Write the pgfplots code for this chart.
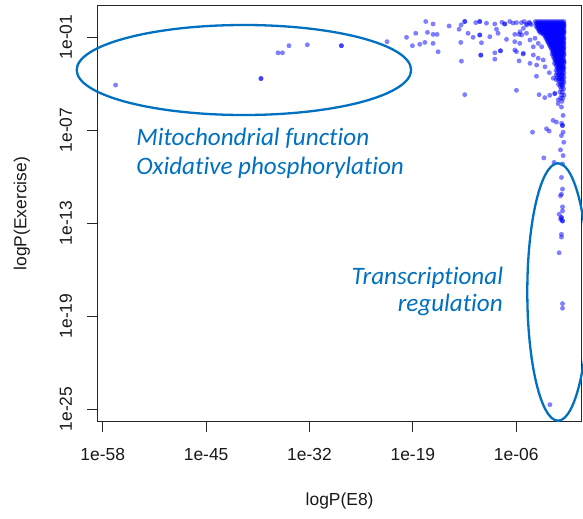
\documentclass[border=0pt]{standalone}
\usepackage{fontspec}
\setmainfont{Liberation Sans}
\newfontfamily\annotfont[Ligatures=NoCommon]{Carlito}
\usepackage{pgfplots}
\pgfplotsset{compat=1.18}
\definecolor{annot}{RGB}{0,112,192}
\definecolor{pt}{RGB}{0,0,255}
\begin{document}
\begin{tikzpicture}
\useasboundingbox (0,0) rectangle (583bp,-519bp);
\begin{axis}[
  at={(97.7bp,-421.7bp)}, anchor=south west,
  scale only axis, width=483.8bp, height=416bp,
  xmin=-58.63, xmax=2.2, ymin=-25.82, ymax=1.02,
  xtick={-58,-45,-32,-19,-6}, xticklabels={1e-58,1e-45,1e-32,1e-19,1e-06},
  ytick={-25,-19,-13,-7,-1}, yticklabels={1e-25,1e-19,1e-13,1e-07,1e-01},
  tick align=outside, major tick length=10.5bp,
  xtick pos=left, ytick pos=left,
  tick style={black!85, line width=0.8bp},
  axis line style={black!85, line width=0.8bp},
  ticklabel style={font=\fontsize{17.5}{21}\selectfont, text=black!90},
  /pgf/number format/assume math mode=true,
  xticklabel style={anchor=north, inner sep=0pt},
  yticklabel style={rotate=90, anchor=south, inner sep=0pt},
  xticklabel shift=16bp,
  yticklabel shift=14.9bp,
  xlabel={logP(E8)}, ylabel={logP(Exercise)},
  label style={font=\fontsize{17.5}{21}\selectfont, text=black!90},
  xlabel style={at={(axis description cs:0.5,-0.1906)}, anchor=center},
  ylabel style={at={(axis description cs:-0.1565,0.5)}, anchor=center},
  every axis plot/.append style={only marks, mark=*, mark size=2.45bp,
    mark options={draw=pt, fill=pt, fill opacity=0.5, draw opacity=0}},
]
% scattered genes
\addplot[color=pt] table {
lx ly
-56.38 -4.10
-38.1 -3.68
-38.1 -3.68
-35.96 -2.02
-35.4 -2.02
-34.58 -1.56
-32.27 -1.50
-27.99 -1.56
-27.99 -1.56
-22.25 -1.30
-19.8 -1.02
-19.06 -1.56
-18.64 -0.76
-18.14 -1.47
-17.5 -1.35
-17.38 0.0
-17.17 -0.70
-16.46 -0.16
-16.46 -0.83
-16.46 -1.41
-15.96 -0.83
-15.83 -1.95
-14.45 -0.29
-13.19 -0.50
-12.98 -1.35
-12.94 -0.22
-12.9 -2.56
-12.48 0.0
-12.48 0.0
-12.48 -4.72
-12.06 -0.76
-11.43 -1.02
-11.09 -0.07
-10.59 0.0
-10.59 0.0
-10.59 -0.87
-10.59 -0.87
-10.46 -2.17
-10.46 -2.17
-10.38 -1.37
-9.75 -0.11
-9.33 -0.98
-8.70 -0.16
-8.70 -2.02
-8.70 -2.43
-8.49 -0.50
-8.29 -0.76
-7.99 -1.89
-7.99 -1.89
-7.8 -0.05
-7.45 -0.16
-7.45 -0.16
-7.23 -1.15
-6.82 0.0
-6.4 -0.10
-6.19 -0.83
-6.19 -1.30
-6.19 -1.84
-5.98 -0.07
-5.98 -1.95
-5.98 -4.44
-5.65 -0.83
-5.65 -2.54
-5.56 -1.41
-5.53 -0.66
-5.35 -0.07
-5.32 -0.87
-5.14 -2.10
-5.11 -0.44
-5.11 -2.05
-5.0 0.0
-4.72 -0.16
-4.72 -0.76
-4.69 -0.23
-4.4 -0.05
-4.28 -0.12
-4.28 -1.19
-4.28 -2.70
-4.1 -0.20
-3.86 -1.63
-3.86 -2.16
-3.65 -1.08
-3.46 -3.53
-3.44 -2.81
-3.24 -1.41
-3.24 -2.37
-3.13 -4.72
-2.81 -1.63
-2.61 -2.48
-2.42 -4.91
-2.39 -2.92
-1.85 -3.30
-1.79 -4.76
-1.35 -3.66
-1.16 -4.65
-1.16 -4.65
-0.74 -5.30
-0.72 -5.06
-0.32 -5.52
-0.11 -6.06
-1.37 -6.38
-0.95 -6.49
-0.29 -6.57
-3.96 -7.14
-2.20 -6.92
-1.87 -7.07
-0.19 -6.71
-0.19 -6.71
-0.11 -7.14
-0.32 -7.36
-0.03 -7.79
-0.44 -8.28
-0.11 -8.65
-2.54 -8.80
-1.24 -9.09
-0.19 -9.19
-0.32 -10.06
-0.19 -10.81
-0.44 -11.25
-0.32 -11.14
-0.19 -11.96
-0.19 -12.22
-0.61 -12.44
-0.32 -12.65
-0.32 -12.65
-0.19 -12.87
-0.19 -12.87
-0.44 -12.76
-0.32 -13.73
-0.32 -13.91
-0.61 -14.92
-0.19 -18.20
-0.19 -18.50
-1.77 -24.72
};
% dense cluster of genes near logP = 0
\addplot[color=pt] table {
lx ly
-3.6 0.0
-3.3 0.0
-3.0 0.0
-2.7 0.0
-2.4 0.0
-2.1 0.0
-1.8 0.0
-1.5 0.0
-1.2 0.0
-0.9 0.0
-0.6 0.0
-0.3 0.0
0.0 0.0
-3.45 -0.15
-3.15 -0.15
-2.85 -0.15
-2.55 -0.15
-2.25 -0.15
-1.95 -0.15
-1.65 -0.15
-1.35 -0.15
-1.05 -0.15
-0.75 -0.15
-0.45 -0.15
-0.15 -0.15
0.0 -0.15
-3.5 -0.3
-3.2 -0.3
-2.9 -0.3
-2.6 -0.3
-2.3 -0.3
-2.0 -0.3
-1.7 -0.3
-1.4 -0.3
-1.1 -0.3
-0.8 -0.3
-0.5 -0.3
-0.2 -0.3
0.0 -0.3
-3.3 -0.45
-3.0 -0.45
-2.7 -0.45
-2.4 -0.45
-2.1 -0.45
-1.8 -0.45
-1.5 -0.45
-1.2 -0.45
-0.9 -0.45
-0.6 -0.45
-0.3 -0.45
0.0 -0.45
-3.15 -0.6
-2.85 -0.6
-2.55 -0.6
-2.25 -0.6
-1.95 -0.6
-1.65 -0.6
-1.35 -0.6
-1.05 -0.6
-0.75 -0.6
-0.45 -0.6
-0.15 -0.6
0.0 -0.6
-2.9 -0.75
-2.6 -0.75
-2.3 -0.75
-2.0 -0.75
-1.7 -0.75
-1.4 -0.75
-1.1 -0.75
-0.8 -0.75
-0.5 -0.75
-0.2 -0.75
0.0 -0.75
-2.45 -0.9
-2.15 -0.9
-1.85 -0.9
-1.55 -0.9
-1.25 -0.9
-0.95 -0.9
-0.65 -0.9
-0.35 -0.9
-0.05 -0.9
-2.3 -1.05
-2.0 -1.05
-1.7 -1.05
-1.4 -1.05
-1.1 -1.05
-0.8 -1.05
-0.5 -1.05
-0.2 -1.05
0.0 -1.05
-2.15 -1.2
-1.85 -1.2
-1.55 -1.2
-1.25 -1.2
-0.95 -1.2
-0.65 -1.2
-0.35 -1.2
-0.05 -1.2
-2.0 -1.35
-1.7 -1.35
-1.4 -1.35
-1.1 -1.35
-0.8 -1.35
-0.5 -1.35
-0.2 -1.35
0.0 -1.35
-1.85 -1.5
-1.55 -1.5
-1.25 -1.5
-0.95 -1.5
-0.65 -1.5
-0.35 -1.5
-0.05 -1.5
-1.7 -1.65
-1.4 -1.65
-1.1 -1.65
-0.8 -1.65
-0.5 -1.65
-0.2 -1.65
0.0 -1.65
-1.55 -1.8
-1.25 -1.8
-0.95 -1.8
-0.65 -1.8
-0.35 -1.8
-0.05 -1.8
-1.4 -1.95
-1.1 -1.95
-0.8 -1.95
-0.5 -1.95
-0.2 -1.95
0.0 -1.95
-1.5 -2.1
-1.2 -2.1
-0.9 -2.1
-0.6 -2.1
-0.3 -2.1
0.0 -2.1
-1.35 -2.25
-1.05 -2.25
-0.75 -2.25
-0.45 -2.25
-0.15 -2.25
-1.25 -2.4
-0.95 -2.4
-0.65 -2.4
-0.35 -2.4
-0.05 -2.4
-1.1 -2.55
-0.8 -2.55
-0.5 -2.55
-0.2 -2.55
0.0 -2.55
-1.2 -2.7
-0.9 -2.7
-0.6 -2.7
-0.3 -2.7
0.0 -2.7
-1.0 -2.85
-0.7 -2.85
-0.4 -2.85
-0.1 -2.85
-0.85 -3.0
-0.55 -3.0
-0.25 -3.0
0.0 -3.0
-1.0 -3.15
-0.7 -3.15
-0.4 -3.15
-0.1 -3.15
-0.85 -3.3
-0.55 -3.3
-0.25 -3.3
0.0 -3.3
-1.0 -3.45
-0.7 -3.45
-0.4 -3.45
-0.1 -3.45
-0.85 -3.6
-0.55 -3.6
-0.25 -3.6
0.0 -3.6
-1.0 -3.75
-0.7 -3.75
-0.4 -3.75
-0.1 -3.75
-0.55 -3.9
-0.25 -3.9
0.0 -3.9
-0.7 -4.05
-0.4 -4.05
-0.1 -4.05
-0.5 -4.2
-0.2 -4.2
-0.35 -4.35
-0.05 -4.35
-0.5 -4.55
-0.2 -4.55
-0.3 -4.75
0.0 -4.75
-0.45 -4.95
-0.15 -4.95
-0.25 -5.15
-3.45 -0.08
-3.15 -0.08
-2.85 -0.08
-2.55 -0.08
-2.25 -0.08
-1.95 -0.08
-1.65 -0.08
-1.35 -0.08
-1.05 -0.08
-0.75 -0.08
-0.45 -0.08
-0.15 -0.08
-3.3 -0.22
-3.0 -0.22
-2.7 -0.22
-2.4 -0.22
-2.1 -0.22
-1.8 -0.22
-1.5 -0.22
-1.2 -0.22
-0.9 -0.22
-0.6 -0.22
-0.3 -0.22
0.0 -0.22
-3.35 -0.38
-3.05 -0.38
-2.75 -0.38
-2.45 -0.38
-2.15 -0.38
-1.85 -0.38
-1.55 -0.38
-1.25 -0.38
-0.95 -0.38
-0.65 -0.38
-0.35 -0.38
-0.05 -0.38
-3.15 -0.52
-2.85 -0.52
-2.55 -0.52
-2.25 -0.52
-1.95 -0.52
-1.65 -0.52
-1.35 -0.52
-1.05 -0.52
-0.75 -0.52
-0.45 -0.52
-0.15 -0.52
-3.0 -0.68
-2.7 -0.68
-2.4 -0.68
-2.1 -0.68
-1.8 -0.68
-1.5 -0.68
-1.2 -0.68
-0.9 -0.68
-0.6 -0.68
-0.3 -0.68
0.0 -0.68
-2.6 -0.82
-2.3 -0.82
-2.0 -0.82
-1.7 -0.82
-1.4 -0.82
-1.1 -0.82
-0.8 -0.82
-0.5 -0.82
-0.2 -0.82
-2.3 -0.98
-2.0 -0.98
-1.7 -0.98
-1.4 -0.98
-1.1 -0.98
-0.8 -0.98
-0.5 -0.98
-0.2 -0.98
-2.15 -1.12
-1.85 -1.12
-1.55 -1.12
-1.25 -1.12
-0.95 -1.12
-0.65 -1.12
-0.35 -1.12
-0.05 -1.12
-2.0 -1.28
-1.7 -1.28
-1.4 -1.28
-1.1 -1.28
-0.8 -1.28
-0.5 -1.28
-0.2 -1.28
-1.85 -1.42
-1.55 -1.42
-1.25 -1.42
-0.95 -1.42
-0.65 -1.42
-0.35 -1.42
-0.05 -1.42
-1.7 -1.58
-1.4 -1.58
-1.1 -1.58
-0.8 -1.58
-0.5 -1.58
-0.2 -1.58
-1.55 -1.72
-1.25 -1.72
-0.95 -1.72
-0.65 -1.72
-0.35 -1.72
-0.05 -1.72
-1.4 -1.88
-1.1 -1.88
-0.8 -1.88
-0.5 -1.88
-0.2 -1.88
-1.35 -2.02
-1.05 -2.02
-0.75 -2.02
-0.45 -2.02
-0.15 -2.02
-1.2 -2.18
-0.9 -2.18
-0.6 -2.18
-0.3 -2.18
0.0 -2.18
-1.1 -2.32
-0.8 -2.32
-0.5 -2.32
-0.2 -2.32
-1.05 -2.48
-0.75 -2.48
-0.45 -2.48
-0.15 -2.48
-0.9 -2.62
-0.6 -2.62
-0.3 -2.62
0.0 -2.62
-0.85 -2.78
-0.55 -2.78
-0.25 -2.78
-0.7 -2.92
-0.4 -2.92
-0.1 -2.92
-0.7 -3.08
-0.4 -3.08
-0.1 -3.08
-0.55 -3.40
-0.25 -3.40
-0.55 -3.70
-0.25 -3.70
-0.25 -4.10
};
\end{axis}
\draw[annot, line width=2.3bp] (243.9bp,-70bp) ellipse [x radius=167.2bp, y radius=45bp];
\draw[annot, line width=2.3bp] (558bp,-292bp) ellipse [x radius=30.7bp, y radius=128.7bp];
\node[anchor=base west, inner sep=0pt, text=annot, font=\annotfont\itshape\fontsize{25.2}{30}\selectfont] at (136.2bp,-145bp) {Mitochondrial function};
\node[anchor=base west, inner sep=0pt, text=annot, font=\annotfont\itshape\fontsize{25.2}{30}\selectfont] at (136.2bp,-174bp) {Oxidative phosphorylation};
\node[anchor=base east, inner sep=0pt, text=annot, font=\annotfont\itshape\fontsize{25.2}{30}\selectfont] at (503.3bp,-284.3bp) {Transcriptional};
\node[anchor=base east, inner sep=0pt, text=annot, font=\annotfont\itshape\fontsize{25.2}{30}\selectfont] at (503bp,-311.5bp) {regulation};
\end{tikzpicture}
\end{document}
